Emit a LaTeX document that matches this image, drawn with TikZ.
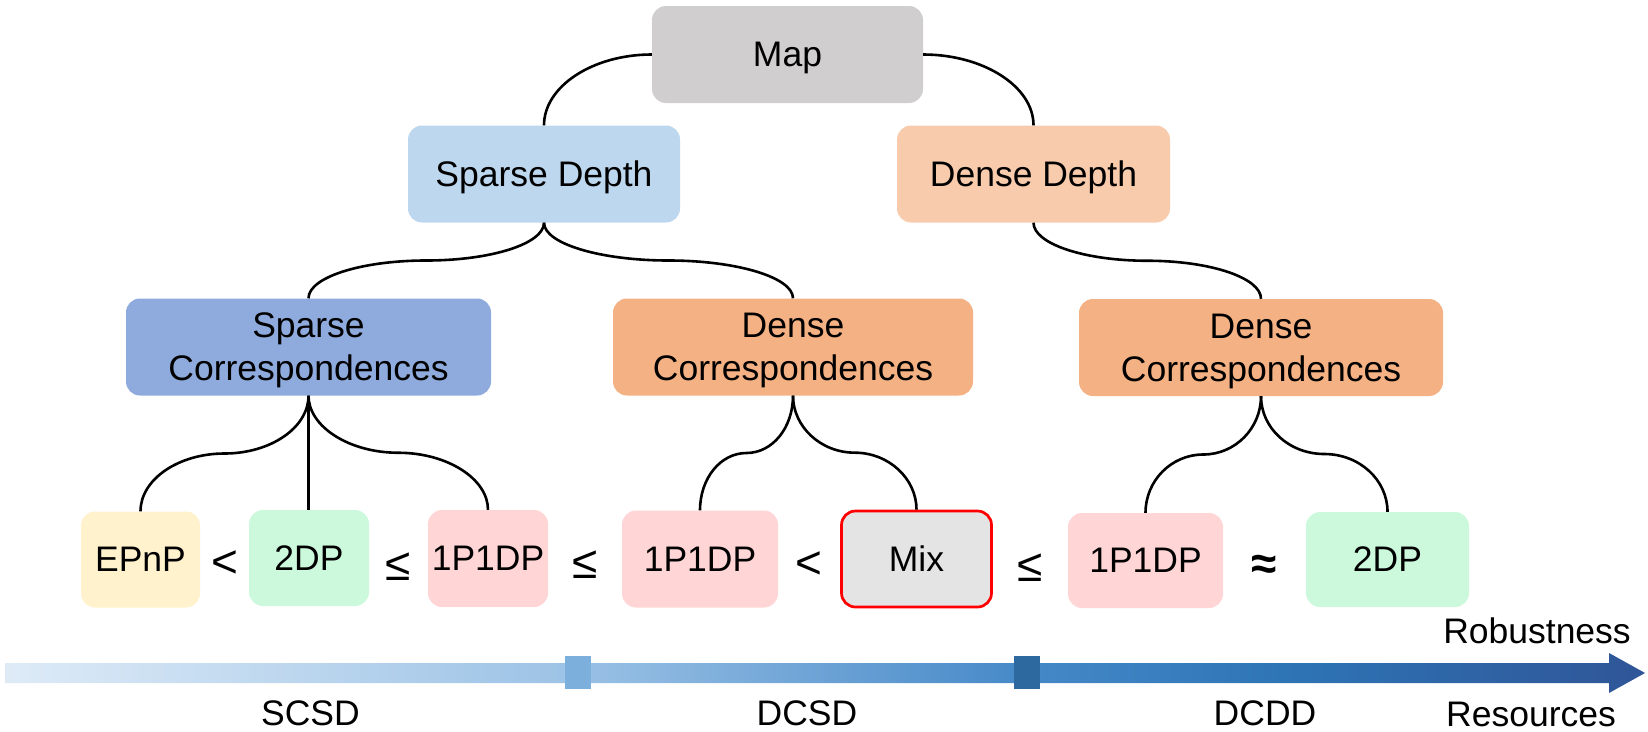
\documentclass[tikz,border=0pt]{standalone}
\usepackage{fontspec}
\setmainfont{Liberation Sans}
\usetikzlibrary{calc}
\definecolor{cmap}{HTML}{D0CECE}
\definecolor{csd}{HTML}{BDD7EE}
\definecolor{cdd}{HTML}{F8CBAD}
\definecolor{csc}{HTML}{8FAADC}
\definecolor{cdc}{HTML}{F4B183}
\definecolor{cepnp}{HTML}{FFF2CC}
\definecolor{ctdp}{HTML}{CCF9DC}
\definecolor{copd}{HTML}{FFD5D5}
\definecolor{cmix}{HTML}{E4E4E4}
\definecolor{bar0}{HTML}{DEEBF7}
\definecolor{bar1}{HTML}{9DC3E6}
\definecolor{bar2}{HTML}{4689C8}
\definecolor{bar3}{HTML}{2E75B6}
\definecolor{bar4}{HTML}{2F5597}
\definecolor{sqa}{HTML}{7DAFDD}
\definecolor{sqb}{HTML}{2D699F}
\pgfdeclarehorizontalshading{barshade}{100bp}{color(0bp)=(bar0); color(25bp)=(bar0); color(42bp)=(bar1); color(56bp)=(bar2); color(64bp)=(bar3); color(75bp)=(bar4); color(100bp)=(bar4)}
\begin{document}
\begin{tikzpicture}[x=1pt,y=-1pt,
  box/.style={rounded corners=14pt, minimum height=97pt, inner sep=0pt, text depth=0pt, align=center, font=\fontsize{35.5}{43}\selectfont},
  link/.style={line width=2.6pt, black},
  rel/.style={anchor=base, inner sep=0pt, font=\fontsize{46}{50}\selectfont},
  lab/.style={anchor=base, inner sep=0pt, font=\fontsize{35.5}{43}\selectfont}]
\useasboundingbox (0,0) rectangle (1648,731);
% nodes
\node[box, fill=cmap, minimum width=271pt] (map) at (787.5,54.5) {Map};
\node[box, fill=csd, minimum width=272pt] (sd) at (544,174) {Sparse Depth};
\node[box, fill=cdd, minimum width=273pt] (dd) at (1033.5,174) {Dense Depth};
\node[box, fill=csc, minimum width=365pt] (sc) at (308.5,347) {Sparse\\Correspondences};
\node[box, fill=cdc, minimum width=360pt] (dcm) at (793,347) {Dense\\Correspondences};
\node[box, fill=cdc, minimum width=364pt] (dcr) at (1261,347.5) {Dense\\Correspondences};
\node[box, fill=cepnp, minimum width=119pt, minimum height=96pt] (epnp) at (140.5,559.5) {EPnP};
\node[box, fill=ctdp, minimum width=120pt, minimum height=96pt] (tdp) at (309,558) {2DP};
\node[box, fill=copd, minimum width=120pt] (opa) at (488,558.5) {1P1DP};
\node[box, fill=copd, minimum width=156pt] (opb) at (700,559) {1P1DP};
\node[box, fill=cmix, draw=red, line width=2.7pt, minimum width=150pt, minimum height=96pt] (mix) at (916.5,559) {Mix};
\node[box, fill=copd, minimum width=155pt, minimum height=95pt] (opc) at (1145.5,560.5) {1P1DP};
\node[box, fill=ctdp, minimum width=163pt, minimum height=95pt] (tdpb) at (1387.5,559.5) {2DP};
% relation symbols
\node[rel] (r1) at ($(epnp.east)!0.5!(tdp.west)+(0,19)$) {<};
\node[rel] (r2) at ($(tdp.east)!0.5!(opa.west)+(0,22)$) {≤};
\node[rel] (r3) at ($(opa.east)!0.5!(opb.west)+(0,20)$) {≤};
\node[rel] (r4) at ($(opb.east)!0.5!(mix.west)+(0,19)$) {<};
\node[rel] (r5) at ($(mix.east)!0.5!(opc.west)+(0,22)$) {≤};
\node[rel] (r6) at ($(opc.east)!0.5!(tdpb.west)+(0,19)$) {\textbf{≈}};
% connectors
\draw[link] (map.west) .. controls +(-59,0) and +(0,-39) .. (sd.north);
\draw[link] (map.east) .. controls +(60,0) and +(0,-39) .. (dd.north);
\coordinate (m1) at ($(sd.south)!0.5!(sc.north)$);
\coordinate (m2) at ($(sd.south)!0.5!(dcm.north)$);
\coordinate (m3) at ($(dd.south)!0.5!(dcr.north)$);
\draw[link] (sd.south) .. controls +(0,21) and +(65,0) .. (m1) .. controls +(-65,0) and +(0,-21) .. (sc.north);
\draw[link] (sd.south) .. controls +(0,21) and +(-68,0) .. (m2) .. controls +(68,0) and +(0,-21) .. (dcm.north);
\draw[link] (dd.south) .. controls +(0,21) and +(-63,0) .. (m3) .. controls +(63,0) and +(0,-21) .. (dcr.north);
\coordinate (n1) at ($(sc.south)!0.5!(epnp.north)$);
\coordinate (n2) at ($(sc.south)!0.5!(opa.north)$);
\coordinate (n3) at ($(dcm.south)!0.5!(opb.north)$);
\coordinate (n4) at ($(dcm.south)!0.5!(mix.north)$);
\coordinate (n5) at ($(dcr.south)!0.5!(opc.north)$);
\coordinate (n6) at ($(dcr.south)!0.5!(tdpb.north)$);
\draw[link] (sc.south) .. controls +(0,32) and +(46,0) .. (n1) .. controls +(-46,0) and +(0,-32) .. (epnp.north);
\draw[link] (sc.south) -- (sc.south |- tdp.north);
\draw[link] (sc.south) .. controls +(0,31) and +(-49,0) .. (n2) .. controls +(49,0) and +(0,-31) .. (opa.north);
\draw[link] (dcm.south) .. controls +(0,32) and +(26,0) .. (n3) .. controls +(-26,0) and +(0,-32) .. (opb.north);
\draw[link] (dcm.south) .. controls +(0,31) and +(-34,0) .. (n4) .. controls +(34,0) and +(0,-31) .. (mix.north);
\draw[link] (dcr.south) .. controls +(0,32) and +(32,0) .. (n5) .. controls +(-32,0) and +(0,-32) .. (opc.north);
\draw[link] (dcr.south) .. controls +(0,32) and +(-35,0) .. (n6) .. controls +(35,0) and +(0,-32) .. (tdpb.north);
% bottom axis
\shade[shading=barshade] (5,663) -- (1609,663) -- (1609,653) -- (1645,673) -- (1609,693) -- (1609,683) -- (5,683) -- cycle;
\fill[sqa] (565,656) rectangle (591,689);
\fill[sqb] (1014,656) rectangle (1040,689);
\node[lab] (scsd) at (310.5,725) {SCSD};
\node[lab] (dcsd) at (807,725) {DCSD};
\node[lab] (dcdd) at (1265,725) {DCDD};
\node[lab] (res) at (1531,726) {Resources};
\node[lab] (rob) at (1537,643) {Robustness};
\end{tikzpicture}
\end{document}
